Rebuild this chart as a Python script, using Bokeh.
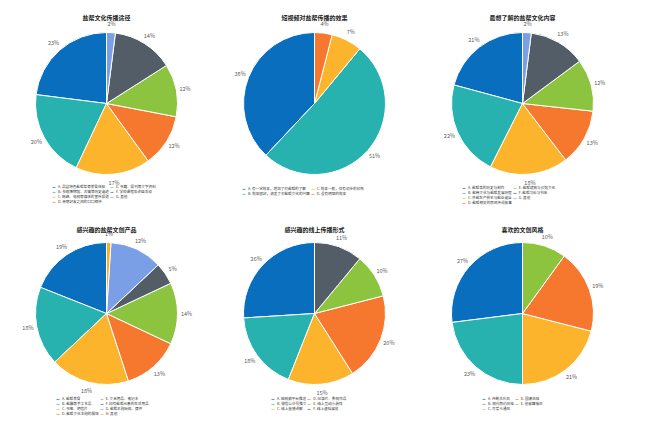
import math
from bokeh.plotting import figure
from bokeh.models import Range1d, ColumnDataSource, Legend, LegendItem
from bokeh.layouts import column, row
from bokeh.embed import file_html
from bokeh.resources import INLINE
from bokeh.core.properties import value

BLUE = "#0A6EBF"
TEAL = "#27B2AF"
YELLOW = "#FCB42C"
ORANGE = "#F5782E"
GREEN = "#8CC43F"
GRAY = "#525D68"
LBLUE = "#7B9FE6"
GOLD = "#F9AE25"

FONT = "Noto Sans CJK SC"

# ---------------- data ----------------
title1 = "盐帮文化传播途径"
labels1 = ["A. 品尝特色盐帮菜等美食体验", "B. 参观博物馆、古镇等历史遗迹",
           "C. 网络、电视等媒体的宣传报道", "D. 亲朋好友之间的口口相传",
           "E. 书籍、报刊等文字资料", "F. 学校课程及讲座活动", "G. 其他"]
values1 = [23, 20, 17, 12, 12, 14, 2]
colors1 = [BLUE, TEAL, YELLOW, ORANGE, GREEN, GRAY, LBLUE]

title2 = "短视频对盐帮传播的效果"
labels2 = ["A. 有一定效果，增加了对盐帮的了解", "B. 效果很好，激发了对盐帮文化的兴趣",
           "C. 效果一般，仅有初步的印象", "D. 没有明显的效果"]
values2 = [38, 51, 7, 4]
colors2 = [BLUE, TEAL, YELLOW, ORANGE]

title3 = "最想了解的盐帮文化内容"
labels3 = ["A. 盐帮菜的历史与制作", "B. 盐商文化与盐帮发展历程",
           "C. 井盐生产技艺与盐业遗址", "D. 盐帮相关的民间传说故事",
           "E. 盐帮建筑与会馆文化", "F. 盐帮习俗与节庆", "G. 其他"]
values3 = [21, 22, 18, 13, 12, 13, 2]
colors3 = [BLUE, TEAL, YELLOW, ORANGE, GREEN, GRAY, LBLUE]

title4 = "感兴趣的盐帮文创产品"
labels4 = ["A. 盐帮美食", "B. 盐雕等手工艺品", "C. 书签、明信片", "D. 盐帮文化主题的服饰",
           "E. 文具用品、笔记本", "F. 印有盐帮元素的生活用品", "G. 盐帮主题玩偶、摆件", "H. 其他"]
values4 = [19, 18, 18, 13, 14, 5, 12, 1]
colors4 = [BLUE, TEAL, YELLOW, ORANGE, GREEN, GRAY, LBLUE, GOLD]

title5 = "感兴趣的线上传播形式"
labels5 = ["A. 短视频平台推送", "B. 微信公众号推文", "C. 线上直播讲解",
           "D. 纪录片、影视作品", "E. 线上互动小游戏", "F. 线上虚拟展览"]
values5 = [26, 18, 15, 20, 10, 11]
colors5 = [BLUE, TEAL, YELLOW, ORANGE, GREEN, GRAY]

title6 = "喜欢的文创风格"
labels6 = ["A. 传统古朴风", "B. 现代简约风格", "C. 可爱卡通风",
           "D. 国潮风格", "E. 创意趣味风"]
values6 = [27, 23, 21, 19, 10]
colors6 = [BLUE, TEAL, YELLOW, ORANGE, GREEN]

W, H = 208, 210
R = 71
LR = 80
CX = 106


def make_pie(title, labels, values, colors, nrows, cy, ty, lx, ly):
    p = figure(width=W, height=H, x_range=Range1d(0, W), y_range=Range1d(0, H),
               output_backend="svg", toolbar_location=None, min_border=0,
               outline_line_color=None)
    p.axis.visible = False
    p.grid.visible = False
    cx = CX
    total = float(sum(values))
    starts, ends, mids = [], [], []
    cum = 0.0
    for v in values:
        a0 = math.pi / 2 + 2 * math.pi * cum / total
        cum += v
        a1 = math.pi / 2 + 2 * math.pi * cum / total
        starts.append(a0)
        ends.append(a1)
        mids.append((a0 + a1) / 2)
    src = ColumnDataSource(dict(start=starts, end=ends, color=colors, label=labels))
    r = p.wedge(x=cx, y=cy, radius=R, start_angle="start", end_angle="end",
                direction="anticlock", fill_color="color", line_color="white",
                line_width=1, source=src)
    pct = ["%d%%" % round(v * 100 / total) for v in values]
    tx = [cx + LR * math.cos(m) for m in mids]
    tyy = [cy + LR * math.sin(m) for m in mids]
    p.text(x=tx, y=tyy, text=pct, text_align="center", text_baseline="middle",
           text_font=value(FONT), text_font_size="5.5px", text_color="#595959")
    p.text(x=[cx], y=[ty], text=[title], text_align="center", text_baseline="middle",
           text_font=value(FONT), text_font_size="6px", text_font_style="bold",
           text_color="#222222")
    items = [LegendItem(label=value(l), renderers=[r], index=i) for i, l in enumerate(labels)]
    leg = Legend(items=items, nrows=nrows, location=(lx, ly), orientation="vertical",
                 label_text_font=FONT, label_text_font_size="3.6px",
                 label_text_color="#333333", label_height=4, label_width=10,
                 glyph_height=2, glyph_width=5, label_standoff=2, spacing=0,
                 padding=0, margin=0, border_line_color=None,
                 background_fill_alpha=0)
    p.add_layout(leg, "center")
    return p


p1 = make_pie(title1, labels1, values1, colors1, 4, 107, 193, 51, 6)
p2 = make_pie(title2, labels2, values2, colors2, 2, 107, 193, 33, 14)
p3 = make_pie(title3, labels3, values3, colors3, 4, 107, 193, 45, 5)
p4 = make_pie(title4, labels4, values4, colors4, 4, 107, 191, 55, 4)
p5 = make_pie(title5, labels5, values5, colors5, 3, 107, 191, 62, 9)
p6 = make_pie(title6, labels6, values6, colors6, 3, 107, 191, 65, 9)

layout = column(row(p1, p2, p3), row(p4, p5, p6))
open("out.html", "w").write(file_html(layout, INLINE))
